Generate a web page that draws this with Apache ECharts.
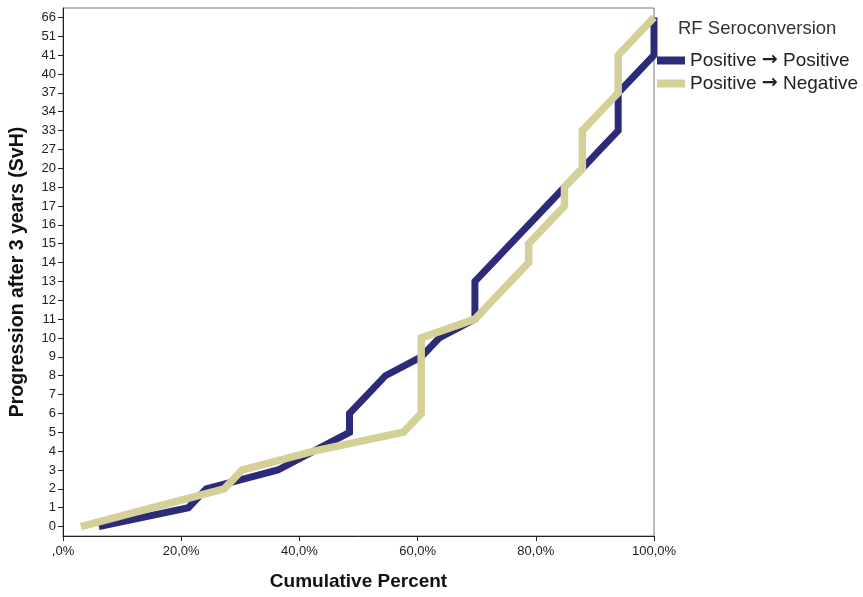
<!DOCTYPE html>
<html>
<head>
<meta charset="utf-8">
<script src="https://cdn.jsdelivr.net/npm/echarts@6/dist/echarts.min.js"></script>
<style>
html,body{margin:0;padding:0;background:#fff;}
#c{width:863px;height:597px;}
</style>
</head>
<body>
<div id="c"></div>
<script>
// Y categories (Progression after 3 years, SvH)
const categories = ['0','1','2','3','4','5','6','7','8','9','10','11','12','13','14','15','16','17','18','20','27','33','34','37','40','41','51','66'];
// Cumulative percent per category
const posPos = [6.06,21.21,24.24,36.36,42.42,48.48,48.48,51.52,54.55,60.61,63.64,69.70,69.70,69.70,72.73,75.76,78.79,81.82,84.85,87.88,90.91,93.94,93.94,93.94,96.97,100,100,100];
const posNeg = [3.03,15.15,27.27,30.30,42.42,57.58,60.61,60.61,60.61,60.61,60.61,69.70,72.73,75.76,78.79,78.79,81.82,84.85,84.85,87.88,87.88,87.88,90.91,93.94,93.94,93.94,96.97,100];
const seriesNames = ['Positive \u2192 Positive', 'Positive \u2192 Negative'];
const xTicks = [0,20,40,60,80,100];

const FONT = '"Liberation Sans", Arial, sans-serif';
const chart = echarts.init(document.getElementById('c'), null, {renderer:'canvas'});
function pts(arr){ return arr.map((v,i)=>[v,i]); }
chart.setOption({
  animation:false,
  backgroundColor:'#fff',
  title:{text:'RF Seroconversion', left:678, top:19, padding:0, textStyle:{fontFamily:FONT,fontSize:18.5,fontWeight:'normal',color:'#333'}},
  legend:{
    orient:'vertical', left:657, top:51, itemGap:4, padding:0,
    itemWidth:28, itemHeight:8, icon:'rect',
    data:seriesNames,
    formatter:n=>n.replace('\u2192','{a|\u2192}'),
    textStyle:{fontFamily:FONT,fontSize:19,color:'#222',
      rich:{a:{fontFamily:'"DejaVu Sans", sans-serif',fontSize:19,fontWeight:'bold',color:'#222'}}}
  },
  grid:{left:63,right:209,top:8,bottom:61,show:true,borderColor:'#777',borderWidth:1,containLabel:false},
  xAxis:{
    type:'value',min:0,max:100,interval:20,
    name:'Cumulative Percent',nameLocation:'middle',nameGap:36,
    nameTextStyle:{fontFamily:FONT,fontSize:19,fontWeight:'bold',color:'#111'},
    axisLine:{show:true,lineStyle:{color:'#222',width:1}},
    axisTick:{show:true,length:5,lineStyle:{color:'#222'}},
    splitLine:{show:false},
    axisLabel:{fontFamily:FONT,fontSize:13,color:'#222',margin:9,
      formatter:v=> v===0 ? ',0%' : v.toFixed(1).replace('.',',')+'%'}
  },
  yAxis:{
    type:'category',data:categories,boundaryGap:true,
    name:'Progression after 3 years (SvH)',nameLocation:'middle',nameGap:35,nameRotate:90,
    nameTextStyle:{fontFamily:FONT,fontSize:19.5,fontWeight:'bold',color:'#111'},
    axisLine:{show:true,lineStyle:{color:'#222',width:1}},
    axisTick:{show:true,alignWithLabel:true,length:5,lineStyle:{color:'#222'}},
    splitLine:{show:false},
    axisLabel:{fontFamily:FONT,fontSize:13,color:'#222',margin:7,interval:0}
  },
  series:[
    {name:seriesNames[0],type:'line',data:pts(posPos),symbol:'none',color:'#2b2b7a',
     lineStyle:{width:7,color:'#2b2b7a',join:'miter',cap:'butt'}},
    {name:seriesNames[1],type:'line',data:pts(posNeg),symbol:'none',color:'#d5cf98',
     lineStyle:{width:7.5,color:'#d5cf98',join:'miter',cap:'butt'}}
  ]
});
</script>
</body>
</html>
